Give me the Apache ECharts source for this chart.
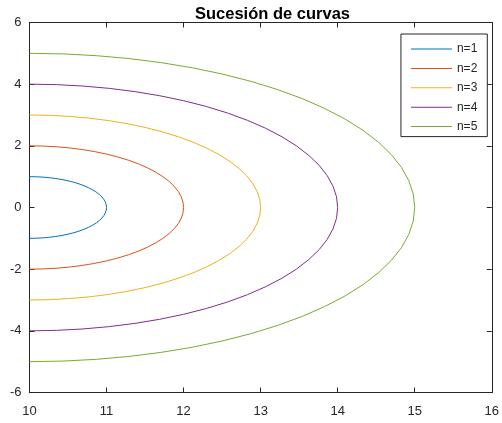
<!DOCTYPE html>
<html>
<head>
<meta charset="utf-8">
<script src="https://cdn.jsdelivr.net/npm/echarts@6/dist/echarts.min.js"></script>
<style>html,body{margin:0;padding:0;background:#fff;}#c{width:502px;height:423px;}</style>
</head>
<body>
<div id="c"></div>
<script>
const seriesNames = ['n=1', 'n=2', 'n=3', 'n=4', 'n=5'];
const xTicks = [10, 11, 12, 13, 14, 15, 16];
const yTicks = [-6, -4, -2, 0, 2, 4, 6];

const x1 = [10, 10.087, 10.174, 10.259, 10.342, 10.423, 10.5, 10.574, 10.643, 10.707, 10.766, 10.819, 10.866, 10.906, 10.940, 10.966, 10.985, 10.996, 11, 10.996, 10.985, 10.966, 10.940, 10.906, 10.866, 10.819, 10.766, 10.707, 10.643, 10.574, 10.5, 10.423, 10.342, 10.259, 10.174, 10.087, 10];
const y1 = [-1, -0.996, -0.985, -0.966, -0.940, -0.906, -0.866, -0.819, -0.766, -0.707, -0.643, -0.574, -0.5, -0.423, -0.342, -0.259, -0.174, -0.087, 0, 0.087, 0.174, 0.259, 0.342, 0.423, 0.5, 0.574, 0.643, 0.707, 0.766, 0.819, 0.866, 0.906, 0.940, 0.966, 0.985, 0.996, 1];
const x2 = [10, 10.174, 10.347, 10.518, 10.684, 10.845, 11, 11.147, 11.286, 11.414, 11.532, 11.638, 11.732, 11.813, 11.879, 11.932, 11.970, 11.992, 12, 11.992, 11.970, 11.932, 11.879, 11.813, 11.732, 11.638, 11.532, 11.414, 11.286, 11.147, 11, 10.845, 10.684, 10.518, 10.347, 10.174, 10];
const y2 = [-2, -1.992, -1.970, -1.932, -1.879, -1.813, -1.732, -1.638, -1.532, -1.414, -1.286, -1.147, -1, -0.845, -0.684, -0.518, -0.347, -0.174, 0, 0.174, 0.347, 0.518, 0.684, 0.845, 1, 1.147, 1.286, 1.414, 1.532, 1.638, 1.732, 1.813, 1.879, 1.932, 1.970, 1.992, 2];
const x3 = [10, 10.261, 10.521, 10.776, 11.026, 11.268, 11.5, 11.721, 11.928, 12.121, 12.298, 12.457, 12.598, 12.719, 12.819, 12.898, 12.954, 12.989, 13, 12.989, 12.954, 12.898, 12.819, 12.719, 12.598, 12.457, 12.298, 12.121, 11.928, 11.721, 11.5, 11.268, 11.026, 10.776, 10.521, 10.261, 10];
const y3 = [-3, -2.989, -2.954, -2.898, -2.819, -2.719, -2.598, -2.457, -2.298, -2.121, -1.928, -1.721, -1.5, -1.268, -1.026, -0.776, -0.521, -0.261, 0, 0.261, 0.521, 0.776, 1.026, 1.268, 1.5, 1.721, 1.928, 2.121, 2.298, 2.457, 2.598, 2.719, 2.819, 2.898, 2.954, 2.989, 3];
const x4 = [10, 10.349, 10.695, 11.035, 11.368, 11.690, 12, 12.294, 12.571, 12.828, 13.064, 13.277, 13.464, 13.625, 13.759, 13.864, 13.939, 13.985, 14, 13.985, 13.939, 13.864, 13.759, 13.625, 13.464, 13.277, 13.064, 12.828, 12.571, 12.294, 12, 11.690, 11.368, 11.035, 10.695, 10.349, 10];
const y4 = [-4, -3.985, -3.939, -3.864, -3.759, -3.625, -3.464, -3.277, -3.064, -2.828, -2.571, -2.294, -2, -1.690, -1.368, -1.035, -0.695, -0.349, 0, 0.349, 0.695, 1.035, 1.368, 1.690, 2, 2.294, 2.571, 2.828, 3.064, 3.277, 3.464, 3.625, 3.759, 3.864, 3.939, 3.985, 4];
const x5 = [10, 10.436, 10.868, 11.294, 11.710, 12.113, 12.5, 12.868, 13.214, 13.536, 13.830, 14.096, 14.330, 14.532, 14.698, 14.830, 14.924, 14.981, 15, 14.981, 14.924, 14.830, 14.698, 14.532, 14.330, 14.096, 13.830, 13.536, 13.214, 12.868, 12.5, 12.113, 11.710, 11.294, 10.868, 10.436, 10];
const y5 = [-5, -4.981, -4.924, -4.830, -4.698, -4.532, -4.330, -4.096, -3.830, -3.536, -3.214, -2.868, -2.5, -2.113, -1.710, -1.294, -0.868, -0.436, 0, 0.436, 0.868, 1.294, 1.710, 2.113, 2.5, 2.868, 3.214, 3.536, 3.830, 4.096, 4.330, 4.532, 4.698, 4.830, 4.924, 4.981, 5];

const xs = [x1, x2, x3, x4, x5];
const ys = [y1, y2, y3, y4, y5];
const colors = ['#0072BD', '#D95319', '#EDB120', '#7E2F8E', '#77AC30'];
const axisColor = '#262626';
const font = 'Liberation Sans, Arial, Helvetica, sans-serif';

function axisBase(type, ticks, pos, showLabel) {
  return {
    type: 'value',
    position: pos,
    min: ticks[0],
    max: ticks[ticks.length - 1],
    interval: ticks[1] - ticks[0],
    axisLine: { show: true, onZero: false, lineStyle: { color: axisColor, width: 1 } },
    axisTick: { show: true, inside: true, length: 5, lineStyle: { color: axisColor } },
    axisLabel: { show: showLabel, color: axisColor, fontSize: 13, fontFamily: font, margin: type === 'x' ? 12 : 8 },
    splitLine: { show: false }
  };
}

const chart = echarts.init(document.getElementById('c'), null, { renderer: 'canvas' });
chart.setOption({
  animation: false,
  backgroundColor: '#ffffff',
  title: {
    text: 'Sucesión de curvas',
    left: 267.5, textAlign: 'center', top: 1,
    textStyle: { fontSize: 16.5, fontWeight: 'bold', color: '#000', fontFamily: font }
  },
  grid: { left: 29.5, right: 2, top: 22.5, bottom: 30.5, containLabel: false },
  xAxis: [axisBase('x', xTicks, 'bottom', true), axisBase('x', xTicks, 'top', false)],
  yAxis: [axisBase('y', yTicks, 'left', true), axisBase('y', yTicks, 'right', false)],
  legend: {
    orient: 'vertical',
    right: 14.7, top: 34,
    padding: [8, 10, 3, 10],
    icon: 'path://M0,0L41,0L41,1L0,1Z',
    itemWidth: 41, itemHeight: 14, itemGap: 5.4,
    backgroundColor: '#fff',
    borderColor: axisColor, borderWidth: 1,
    textStyle: { fontSize: 12, lineHeight: 14, color: axisColor, fontFamily: font },
    data: seriesNames
  },
  series: seriesNames.map((name, i) => ({
    name: name,
    type: 'line',
    xAxisIndex: 0, yAxisIndex: 0,
    data: xs[i].map((x, k) => [x, ys[i][k]]),
    symbol: 'none',
    showSymbol: false,
    color: colors[i],
    lineStyle: { color: colors[i], width: 1 }
  }))
});
</script>
</body>
</html>
